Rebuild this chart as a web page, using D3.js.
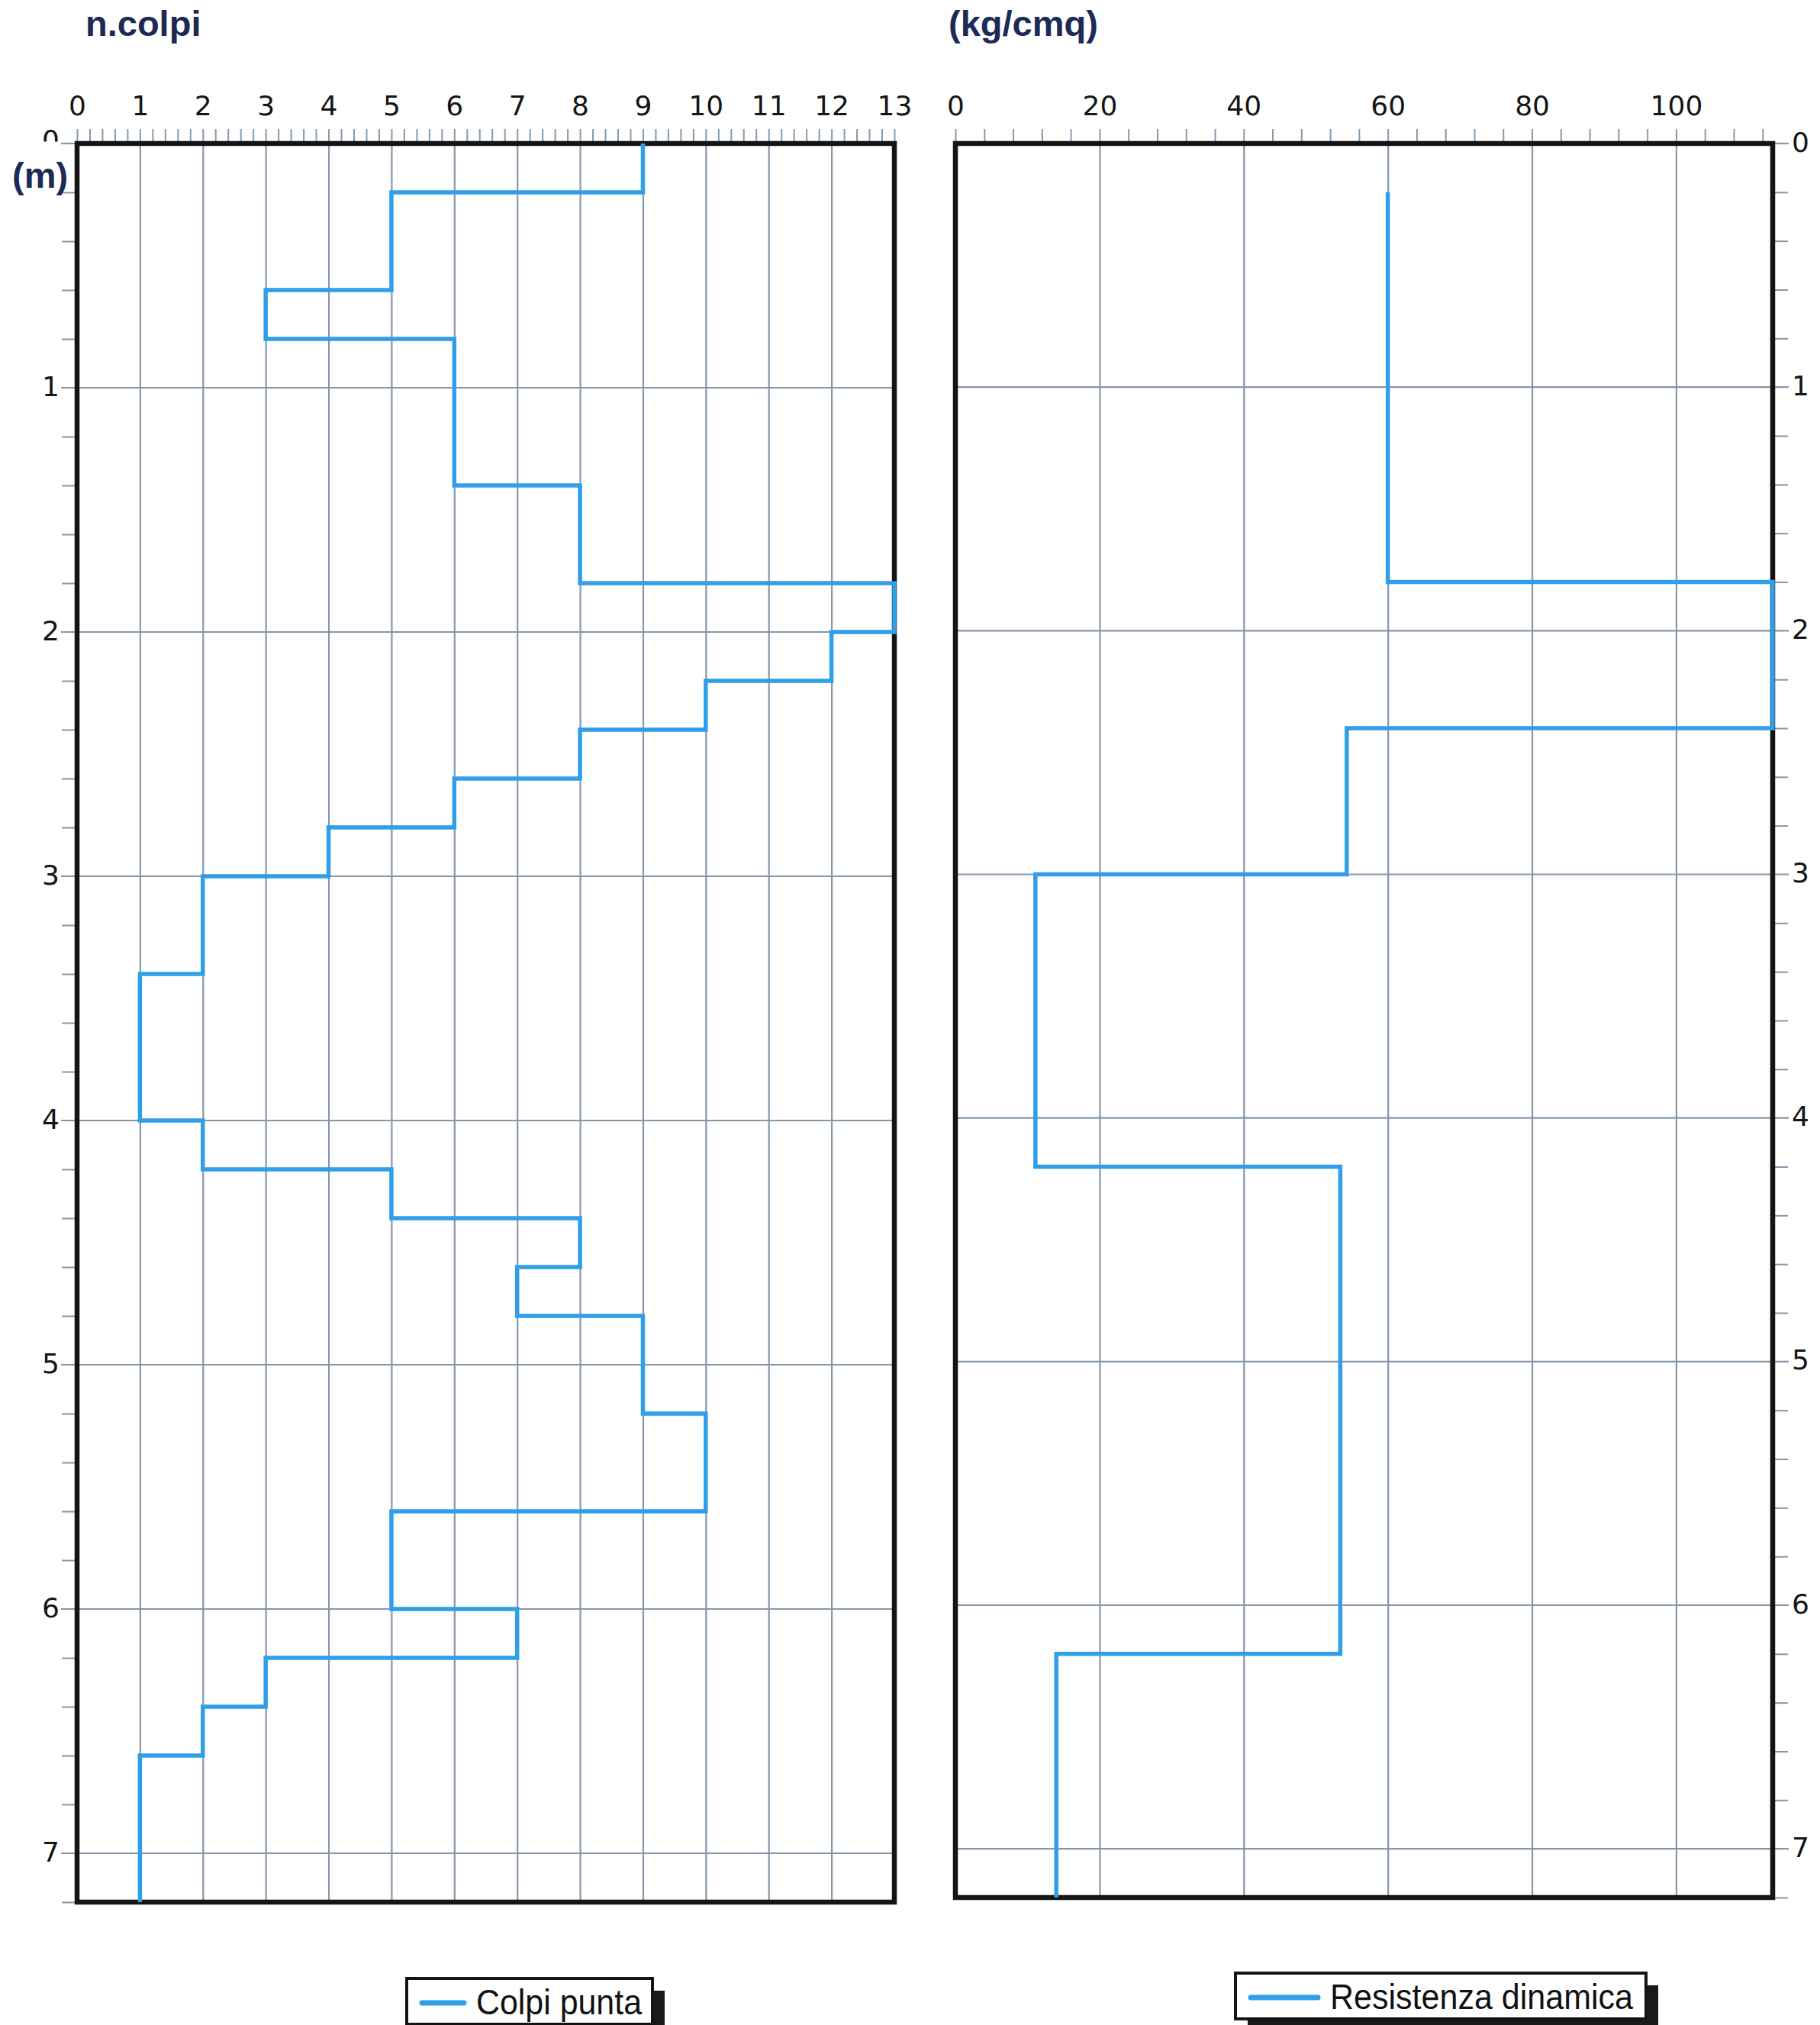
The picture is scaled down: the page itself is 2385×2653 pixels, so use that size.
<!DOCTYPE html>
<html>
<head>
<meta charset="utf-8">
<script src="https://cdn.jsdelivr.net/npm/d3@7"></script>
<style>
  html, body { margin: 0; padding: 0; background: #fff; }
  svg { display: block; }
</style>
</head>
<body>
<script>
// ---------- DATA ----------
// Colpi punta (n. blows) per depth interval
const colpiDepths = [0, 0.2, 0.6, 0.8, 1.4, 1.8, 2.0, 2.2, 2.4, 2.6, 2.8, 3.0, 3.4, 4.0, 4.2, 4.4, 4.6, 4.8, 5.2, 5.6, 6.0, 6.2, 6.4, 6.6, 7.2];
const colpiValues = [9, 5, 3, 6, 8, 13, 12, 10, 8, 6, 4, 2, 1, 2, 5, 8, 7, 9, 10, 5, 7, 3, 2, 1];
// Resistenza dinamica (kg/cmq) per depth interval
const resDepths = [0.2, 1.8, 2.4, 3.0, 4.2, 6.2, 7.2];
const resValues = [60, 113.4, 54.3, 11.1, 53.4, 14];
// Tick labels
const colpiTicks = [0, 1, 2, 3, 4, 5, 6, 7, 8, 9, 10, 11, 12, 13];
const resTicks = [0, 20, 40, 60, 80, 100];
const depthTicks = [0, 1, 2, 3, 4, 5, 6, 7];
const titleLeft = "n.colpi";
const titleRight = "(kg/cmq)";
const depthUnit = "(m)";
const legendLeft = "Colpi punta";
const legendRight = "Resistenza dinamica";

// ---------- STYLE ----------
const W = 2385, H = 2653;
const lineColor = "#2e9fe8";
const gridColor = "#8497ab";
const frameColor = "#141414";
const titleColor = "#1c2b55";
const numFont = "'DejaVu Sans', sans-serif";
const txtFont = "'Liberation Sans', Arial, sans-serif";

const svg = d3.select("body").append("svg").attr("width", W).attr("height", H);
svg.append("rect").attr("width", W).attr("height", H).attr("fill", "#fff");

const xL = d3.scaleLinear().domain([0, 13]).range([101, 1172]);
const xR = d3.scaleLinear().domain([0, 113.4]).range([1252, 2323]);
const yL = d3.scaleLinear().domain([0, 7.2]).range([188, 2492]);
const yR = d3.scaleLinear().domain([0, 7.2]).range([188, 2486]);

function panel(x, y, gridX, minorStep, side) {
  const g = svg.append("g");
  const [x0, x1] = x.range();
  const [y0, y1] = y.range();
  // vertical gridlines
  g.append("g").attr("transform", `translate(0,${y1})`)
    .call(d3.axisBottom(x).tickValues(gridX).tickSize(-(y1 - y0)).tickFormat(""))
    .call(s => s.select(".domain").remove())
    .call(s => s.selectAll("line").attr("stroke", gridColor).attr("stroke-width", 2.2));
  // horizontal gridlines (extending outside frame as ticks)
  const ext = 21;
  g.append("g").selectAll("line").data(depthTicks).join("line")
    .attr("x1", d => side === "left" ? x0 - ext : (d === 0 ? x1 : x0))
    .attr("x2", d => side === "left" ? (d === 0 ? x0 : x1) : x1 + ext)
    .attr("y1", d => y(d)).attr("y2", d => y(d))
    .attr("stroke", gridColor).attr("stroke-width", 2.2);
  // minor depth ticks outside frame
  const minor = d3.range(0, 7.21, 0.2).map(d => +d.toFixed(1)).filter(d => Math.abs(d - Math.round(d)) > 1e-6);
  const mg = side === "left" ? d3.axisLeft(y) : d3.axisRight(y);
  g.append("g").attr("transform", `translate(${side === "left" ? x0 : x1},0)`)
    .call(mg.tickValues(minor).tickSize(20).tickFormat(""))
    .call(s => s.select(".domain").remove())
    .call(s => s.selectAll("line").attr("stroke", gridColor).attr("stroke-width", 2));
  // top minor ticks
  const topVals = d3.range(0, x.domain()[1] + 1e-6, minorStep).map(v => +v.toFixed(2));
  g.append("g").attr("transform", `translate(0,${y0 - 3})`)
    .call(d3.axisTop(x).tickValues(topVals).tickSize(16).tickFormat(""))
    .call(s => s.select(".domain").remove())
    .call(s => s.selectAll("line").attr("stroke", "#7f9bb3").attr("stroke-width", 2));
  // frame
  g.append("rect").attr("x", x0).attr("y", y0).attr("width", x1 - x0).attr("height", y1 - y0)
    .attr("fill", "none").attr("stroke", frameColor).attr("stroke-width", 6.5);
  return g;
}

panel(xL, yL, colpiTicks.filter(v => v > 0 && v < 13), 0.2, "left");
panel(xR, yR, resTicks.filter(v => v > 0), 4, "right");

// top tick labels
function topLabels(x, vals) {
  svg.append("g").attr("transform", "translate(0,151)")
    .call(d3.axisTop(x).tickValues(vals).tickSize(0).tickPadding(0))
    .call(s => s.select(".domain").remove())
    .call(s => s.selectAll("text").attr("font-family", numFont).attr("font-size", 36).attr("fill", "#151515"));
}
topLabels(xL, colpiTicks);
topLabels(xR, resTicks);

// depth labels
const clip = svg.append("defs").append("clipPath").attr("id", "topclip");
clip.append("rect").attr("x", -100).attr("y", -60).attr("width", 100).attr("height", 57);
const leftLab = svg.append("g").attr("transform", "translate(78,0)")
  .call(d3.axisLeft(yL).tickValues(depthTicks).tickSize(0).tickPadding(0))
  .call(s => s.select(".domain").remove())
  .call(s => s.selectAll("text").attr("font-family", numFont).attr("font-size", 36).attr("fill", "#151515").attr("dy", "0.3em"));
leftLab.selectAll(".tick").filter(d => d === 0).attr("clip-path", "url(#topclip)");
leftLab.selectAll(".tick").filter(d => d === 0).select("text").attr("dy", "0.2em");

svg.append("g").attr("transform", "translate(2348,0)")
  .call(d3.axisRight(yR).tickValues(depthTicks).tickSize(0).tickPadding(0))
  .call(s => s.select(".domain").remove())
  .call(s => s.selectAll("text").attr("font-family", numFont).attr("font-size", 36).attr("fill", "#151515").attr("dy", "0.28em"));

// titles
svg.append("text").attr("x", 112).attr("y", 47).text(titleLeft)
  .attr("font-family", txtFont).attr("font-weight", "bold").attr("font-size", 47).attr("fill", titleColor);
svg.append("text").attr("x", 1243).attr("y", 47).text(titleRight)
  .attr("font-family", txtFont).attr("font-weight", "bold").attr("font-size", 47).attr("fill", titleColor);
svg.append("text").attr("x", 16).attr("y", 246).text(depthUnit)
  .attr("font-family", txtFont).attr("font-weight", "bold").attr("font-size", 47).attr("fill", titleColor);

// series step lines
function stepPoints(depths, values) {
  const pts = [];
  values.forEach((v, i) => { pts.push([v, depths[i]]); pts.push([v, depths[i + 1]]); });
  return pts;
}
svg.append("path").datum(stepPoints(colpiDepths, colpiValues))
  .attr("d", d3.line().x(d => xL(d[0])).y(d => yL(d[1])))
  .attr("fill", "none").attr("stroke", lineColor).attr("stroke-width", 5.5).attr("stroke-linejoin", "miter");
svg.append("path").datum(stepPoints(resDepths, resValues))
  .attr("d", d3.line().x(d => xR(d[0])).y(d => yR(d[1])))
  .attr("fill", "none").attr("stroke", lineColor).attr("stroke-width", 5.5).attr("stroke-linejoin", "miter");

// legends
function legend(x, y, w, h, lineLen, label, textLen) {
  const g = svg.append("g");
  g.append("rect").attr("x", x + 16).attr("y", y + 16).attr("width", w).attr("height", h).attr("fill", "#1a1a1a");
  g.append("rect").attr("x", x).attr("y", y).attr("width", w).attr("height", h)
    .attr("fill", "#fff").attr("stroke", frameColor).attr("stroke-width", 4);
  g.append("line").attr("x1", x + 20).attr("x2", x + 20 + lineLen)
    .attr("y1", y + h / 2 + 2).attr("y2", y + h / 2 + 2)
    .attr("stroke", lineColor).attr("stroke-width", 7).attr("stroke-linecap", "round");
  g.append("text").attr("x", x + 20 + lineLen + 16).attr("y", y + h / 2 + 17).text(label)
    .attr("font-family", txtFont).attr("font-size", 47).attr("fill", "#111")
    .attr("textLength", textLen).attr("lengthAdjust", "spacingAndGlyphs");
}
legend(533, 2592, 322, 60, 55, legendLeft, 217);
legend(1619, 2585, 538, 60, 88, legendRight, 397);
</script>
</body>
</html>
